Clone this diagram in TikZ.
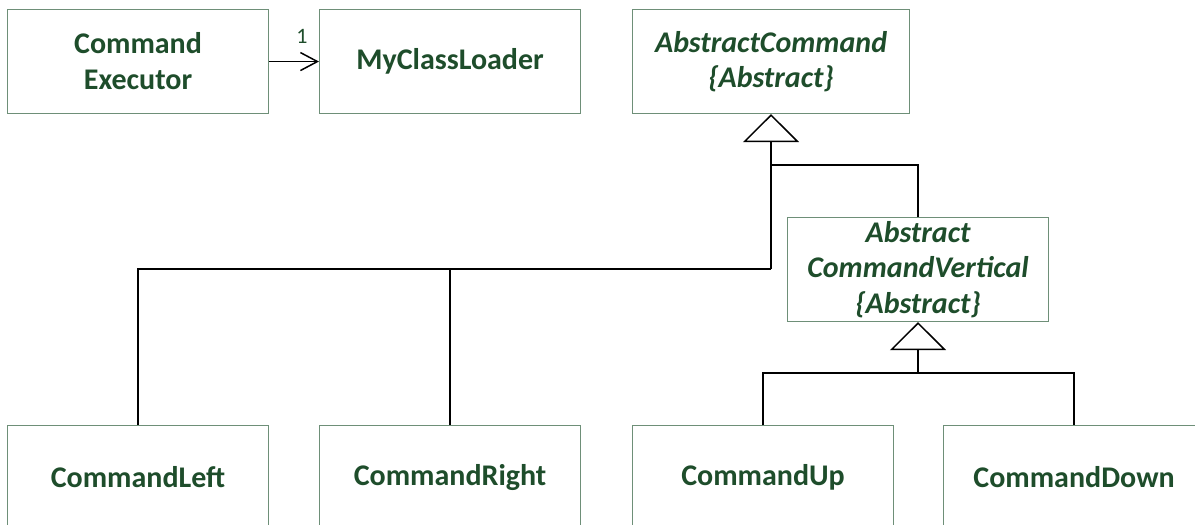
\documentclass[tikz,border=0pt]{standalone}
\usepackage{fontspec}
\setmainfont{Carlito}
\usetikzlibrary{arrows.meta}
\definecolor{txtgreen}{HTML}{1E4D2B}
\definecolor{boxline}{HTML}{6E8F78}

\begin{document}
\begin{tikzpicture}[x=1pt,y=-1pt,
  cls/.style={draw=boxline,line width=1.1pt,minimum width=261pt,minimum height=104pt,
    inner sep=0pt,font=\fontsize{30}{36}\selectfont\bfseries,text=txtgreen,
    align=center,anchor=north west},
  absc/.style={cls,font=\fontsize{30}{35.5}\selectfont\bfseries\itshape},
  link/.style={line width=1.5pt,draw=black},
  inherit/.style={link,-{Triangle[open,length=28pt,width=56pt]}},
  assoc/.style={link,-{Straight Barb[length=17pt,width=18pt]}},
  mult/.style={font=\fontsize{22}{26}\selectfont,text=txtgreen,inner sep=0pt}]

\useasboundingbox (0,0) rectangle (1195,525);
\clip (0,0) rectangle (1195,525);

% top row
\node[cls] (CE) at (7,9) {Command\\Executor};
\node[cls] (MCL) at (319,9) {MyClassLoader};
\node[absc,minimum width=277pt] (AC) at (632,9) {AbstractCommand\\\{Abstract\}};

% intermediate abstract class
\node[absc] (ACV) at (787,217) {Abstract\\CommandVertical\\\{Abstract\}};

% concrete commands
\node[cls] (CL) at (7,425) {CommandLeft};
\node[cls] (CR) at (319,425) {CommandRight};
\node[cls] (CU) at (632,425) {CommandUp};
\node[cls] (CD) at (943,425) {CommandDown};

% association
\draw[assoc] (CE.east) -- (MCL.west);
\node[mult] (m1) at (302,36) {1};

% inheritance tree under AbstractCommand
\coordinate (j1) at (AC.south |- 0,269);
\coordinate (j2) at (AC.south |- 0,165);
\draw[inherit] (j1) -- (AC.south);
\draw[link] (CL.north) |- (j1);
\draw[link] (CR.north) -- (CR.north |- j1);
\draw[link] (ACV.north) |- (j2);

% inheritance tree under AbstractCommandVertical
\coordinate (j3) at (ACV.south |- 0,373);
\draw[inherit] (j3) -- (ACV.south);
\draw[link] (CU.north) |- (CD.north |- j3) -- (CD.north);
\end{tikzpicture}
\end{document}
